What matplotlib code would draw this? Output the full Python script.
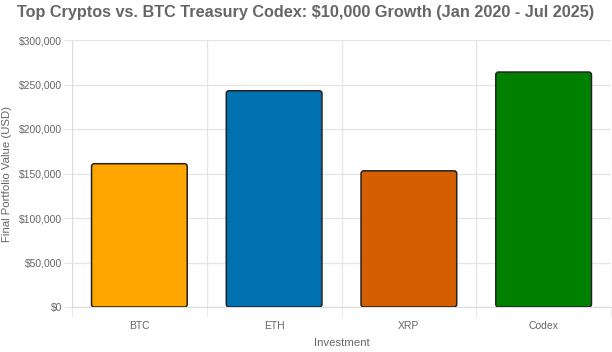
import matplotlib.pyplot as plt
from matplotlib.patches import FancyBboxPatch
from matplotlib.ticker import FuncFormatter, MultipleLocator

plt.rcParams['font.family'] = ['Liberation Sans', 'DejaVu Sans']

investments = ['BTC', 'ETH', 'XRP', 'Codex']
final_values = [161000, 243000, 153000, 264000]
bar_colors = ['#FFA500', '#0072B2', '#D55E00', '#008000']

fig = plt.figure(figsize=(6.12, 3.52), dpi=100)
ax = fig.add_axes([72 / 612, 1 - 307 / 352, 539 / 612, 267 / 352])

x = list(range(len(investments)))
bars = ax.bar(x, final_values, width=0.71, color=bar_colors, edgecolor='black', linewidth=1.1)

# swap plain rectangles for slightly rounded ones
ymax = 300000
aspect = (ymax / 267) / (1 / 135)
for b in bars:
    b.set_visible(False)
    p = FancyBboxPatch((b.get_x(), 0), b.get_width(), b.get_height(),
                       boxstyle='round,pad=0,rounding_size=0.02',
                       mutation_aspect=aspect,
                       facecolor=b.get_facecolor(), edgecolor='#222222',
                       linewidth=1.1, zorder=3)
    ax.add_patch(p)

ax.set_xlim(-0.5, len(investments) - 0.5)
ax.set_ylim(0, ymax)
ax.yaxis.set_major_locator(MultipleLocator(50000))
ax.yaxis.set_major_formatter(FuncFormatter(lambda v, _: f'${v:,.0f}'))
ax.set_xticks(x)
ax.set_xticklabels(investments)
ax.set_xticks([i + 0.5 for i in range(-1, len(investments))], minor=True)

grid_c = '#e6e6e6'
ax.grid(axis='y', color=grid_c, linewidth=1)
ax.grid(axis='x', which='minor', color=grid_c, linewidth=1)
ax.set_axisbelow(True)
for s in ['top', 'right']:
    ax.spines[s].set_visible(False)
for s in ['left', 'bottom']:
    ax.spines[s].set_color('#dcdcdc')
ax.tick_params(axis='y', colors=grid_c, labelcolor='#666666', labelsize=7.5, length=6, pad=1)
ax.tick_params(axis='x', which='major', length=0, labelcolor='#666666', labelsize=7.5, pad=10)
ax.tick_params(axis='x', which='minor', length=7, color=grid_c)

ax.set_ylabel('Final Portfolio Value (USD)', color='#666666', fontsize=8.2)
ax.yaxis.set_label_coords(-60 / 539, 0.5)
ax.set_xlabel('Investment', color='#666666', fontsize=8.2, labelpad=5)
fig.text(0.5, 1 - 13 / 352, 'Top Cryptos vs. BTC Treasury Codex: $10,000 Growth (Jan 2020 - Jul 2025)',
         ha='center', va='center', fontsize=11.7, fontweight='bold', color='#666666')

fig.savefig('out.png', dpi=100)
